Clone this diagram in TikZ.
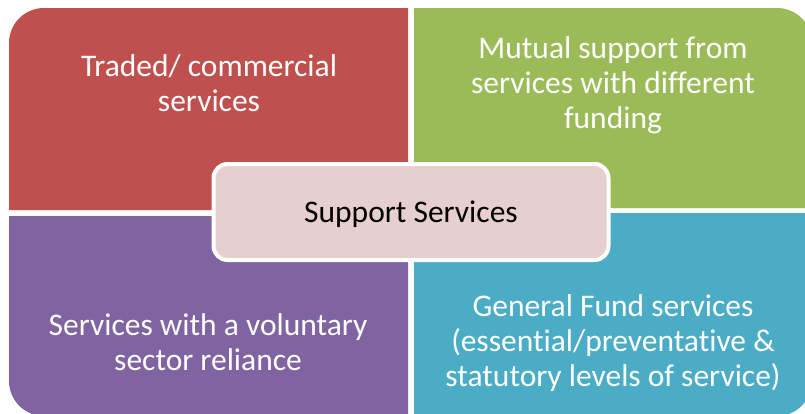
\documentclass[tikz,border=0pt]{standalone}
\usepackage{fontspec}
\setmainfont{Carlito}[Ligatures={NoCommon}]
\definecolor{qred}{HTML}{C0504D}
\definecolor{qgreen}{HTML}{9BBB59}
\definecolor{qpurple}{HTML}{8064A2}
\definecolor{qblue}{HTML}{4BACC6}
\definecolor{hubfill}{HTML}{E8CFCF}
\begin{document}
\begin{tikzpicture}[x=1pt,y=-1pt,
  qtext/.style={text=white,align=center,font=\fontsize{31.5}{35}\selectfont},
  hub/.style={draw=white,line width=4pt,fill=hubfill,rounded corners=14pt,
    minimum width=395pt,minimum height=96pt,font=\fontsize{31.5}{35}\selectfont,text=black}]
\useasboundingbox (0,0) rectangle (805,413);
\fill[white] (0,0) rectangle (805,413);
% four quadrants, only the outer corner rounded
\fill[qred] (408,210) -- (9,210) [rounded corners=35pt]-- (9,8) [sharp corners]-- (408,8) -- cycle;
\fill[qgreen] (414,208) -- (414,8) [rounded corners=35pt]-- (812,8) [sharp corners]-- (812,208) -- cycle;
\fill[qpurple] (408,216) -- (9,216) [rounded corners=35pt]-- (9,416) [sharp corners]-- (408,416) -- cycle;
\fill[qblue] (414,213) -- (812,213) [rounded corners=35pt]-- (812,416) [sharp corners]-- (414,416) -- cycle;
% quadrant labels
\node[qtext] (red) at (209,83) {Traded/ commercial\\services};
\node[qtext] (green) at (613,85) {Mutual support from\\services with different\\funding};
\node[qtext] (purple) at (208,342) {Services with a voluntary\\sector reliance};
\node[qtext] (blue) at (613,343) {General Fund services\\(essential/preventative \&\\statutory levels of service)};
% central hub
\node[hub] (hubnode) at (411,212) {};
\node[font=\fontsize{31.5}{35}\selectfont] (hublabel) at (411,214) {Support Services};
\end{tikzpicture}
\end{document}
